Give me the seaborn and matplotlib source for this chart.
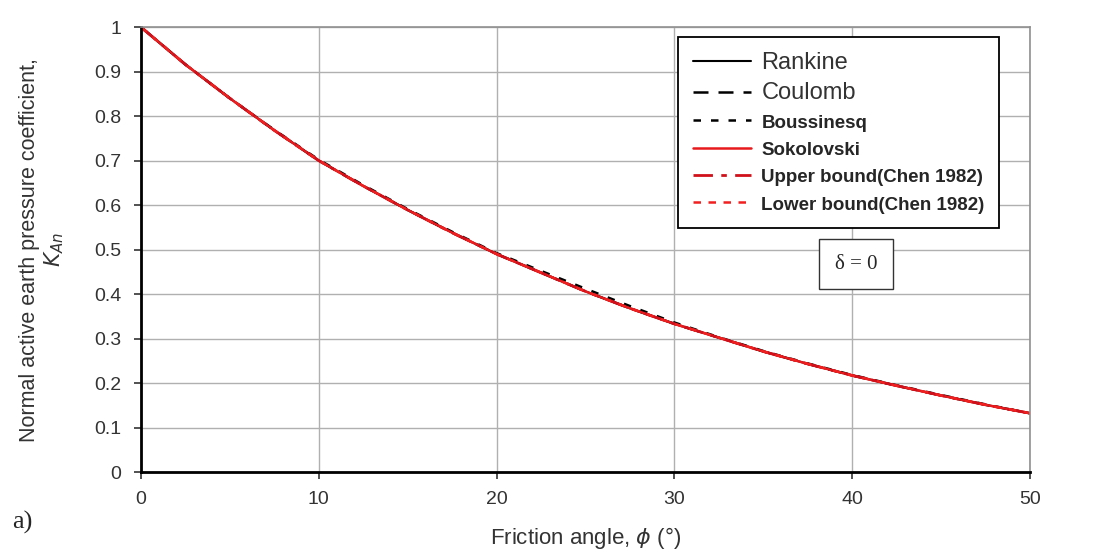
import numpy as np
import pandas as pd
import matplotlib
matplotlib.use("Agg")
from matplotlib import pyplot as plt
import seaborn as sns

# friction angle (deg) and K_An values
phi = [0, 2.5, 5, 7.5, 10, 12.5, 15, 17.5, 20, 22.5, 25, 27.5, 30,
       32.5, 35, 37.5, 40, 42.5, 45, 47.5, 50]
rankine = [1.0, 0.916, 0.84, 0.768, 0.70, 0.643, 0.589, 0.538, 0.49, 0.448,
           0.406, 0.368, 0.333, 0.302, 0.271, 0.243, 0.217, 0.194, 0.172, 0.151, 0.132]
coulomb = [1.0, 0.916, 0.84, 0.768, 0.70, 0.643, 0.589, 0.538, 0.49, 0.448,
           0.406, 0.368, 0.333, 0.302, 0.271, 0.243, 0.217, 0.194, 0.172, 0.151, 0.132]
boussinesq = [1.0, 0.916, 0.84, 0.769, 0.702, 0.645, 0.591, 0.540, 0.492, 0.452,
              0.412, 0.373, 0.336, 0.303, 0.272, 0.244, 0.218, 0.195, 0.173, 0.152, 0.132]
sokolovski = [1.0, 0.916, 0.84, 0.768, 0.70, 0.643, 0.589, 0.538, 0.49, 0.448,
              0.406, 0.368, 0.333, 0.302, 0.271, 0.243, 0.217, 0.194, 0.172, 0.151, 0.132]
upper_chen = [1.0, 0.916, 0.84, 0.768, 0.70, 0.643, 0.589, 0.538, 0.49, 0.448,
              0.406, 0.368, 0.333, 0.302, 0.271, 0.243, 0.217, 0.194, 0.172, 0.151, 0.132]
lower_chen = [1.0, 0.916, 0.84, 0.768, 0.70, 0.643, 0.589, 0.538, 0.49, 0.448,
              0.406, 0.368, 0.333, 0.302, 0.271, 0.243, 0.217, 0.194, 0.172, 0.151, 0.132]

series = [
    ("Rankine", rankine, "black", "-", 1.5),
    ("Coulomb", coulomb, "black", (0, (6, 4)), 1.8),
    ("Boussinesq", boussinesq, "black", (0, (3, 4)), 1.8),
    ("Sokolovski", sokolovski, "#e8191c", "-", 1.8),
    ("Upper bound(Chen 1982)", upper_chen, "#d0101a", (0, (7, 3, 2, 3)), 2.0),
    ("Lower bound(Chen 1982)", lower_chen, "#f02020", (0, (3, 3)), 1.8),
]

sns.set_style("whitegrid")
plt.rcParams['font.family'] = ['Liberation Sans', 'DejaVu Sans']

fig = plt.figure(figsize=(10.97, 5.54), dpi=100)
ax = fig.add_axes([0.1285, 0.148, 0.8105, 0.803])

for name, vals, col, ls, lw in series:
    df = pd.DataFrame({"phi": phi, "K": vals})
    sns.lineplot(data=df, x="phi", y="K", ax=ax, color=col, linestyle=ls,
                 linewidth=lw, label=name)

ax.set_xlim(0, 50)
ax.set_ylim(0, 1)
ax.set_xticks(np.arange(0, 51, 10))
ax.set_yticks(np.arange(0, 1.01, 0.1))
ax.set_yticklabels(["0", "0.1", "0.2", "0.3", "0.4", "0.5", "0.6", "0.7", "0.8", "0.9", "1"])
ax.grid(True, color="#b0b0b0", linewidth=1.0)
ax.tick_params(axis="both", labelsize=14, colors="#333333", length=5, width=1.2,
               direction="out", left=True, bottom=True, pad=9)
for side in ["left", "bottom"]:
    ax.spines[side].set_color("black")
    ax.spines[side].set_linewidth(2.0)
for side in ["top", "right"]:
    ax.spines[side].set_color("#909090")
    ax.spines[side].set_linewidth(1.2)

ax.set_xlabel("Friction angle, $\\phi$ (°)", fontsize=16, color="#333333", labelpad=12)
ax.set_ylabel("Normal active earth pressure coefficient,\n$K_{An}$", fontsize=15.5,
              color="#333333", labelpad=20, linespacing=1.15)

leg = ax.legend(loc="upper left", bbox_to_anchor=(0.604, 0.978), frameon=True,
                fancybox=False, edgecolor="black", framealpha=1, handlelength=2.8,
                handletextpad=0.5, borderpad=0.7, labelspacing=0.42, fontsize=15,
                borderaxespad=0)
leg.get_frame().set_linewidth(1.3)
for i, t in enumerate(leg.get_texts()):
    if i < 2:
        t.set_fontsize(17)
        t.set_color("#333333")
    else:
        t.set_fontsize(13.5)
        t.set_fontweight("bold")

ax.text(40.2, 0.467, "δ = 0", fontsize=15, family="Liberation Serif",
        ha="center", va="center",
        bbox=dict(boxstyle="square,pad=0.75", fc="white", ec="#333333", lw=1.0))

fig.text(0.011, 0.045, "a)", fontsize=19, family="Liberation Serif")

fig.savefig("out.png", dpi=100)
